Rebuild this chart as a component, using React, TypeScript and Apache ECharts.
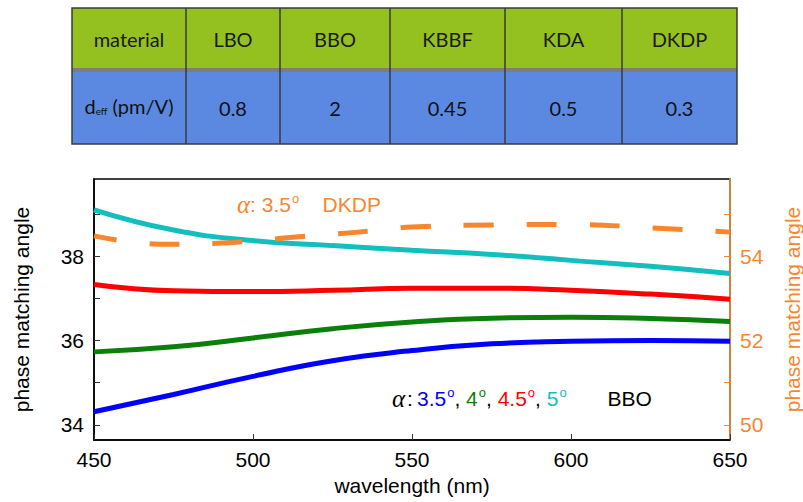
import React, { useEffect, useRef } from "react";
import * as echarts from "echarts";

// ---- data ----
const materials = ["LBO", "BBO", "KBBF", "KDA", "DKDP"];
const deffValues = ["0.8", "2", "0.45", "0.5", "0.3"];

const wavelengths = [450, 475, 500, 525, 550, 575, 600, 625, 650];
const bbo35 = [34.31, 34.72, 35.15, 35.52, 35.76, 35.92, 35.98, 36.0, 35.98];
const bbo40 = [35.73, 35.85, 36.06, 36.28, 36.44, 36.53, 36.55, 36.52, 36.45];
const bbo45 = [37.33, 37.18, 37.16, 37.19, 37.24, 37.24, 37.19, 37.1, 36.98];
const bbo50 = [39.1, 38.62, 38.37, 38.25, 38.14, 38.04, 37.9, 37.76, 37.59];

const dkdpWavelengths = [450, 462.5, 475, 487.5, 500, 512.5, 525, 537.5, 550, 575, 600, 625, 650];
const dkdp35 = [54.48, 54.33, 54.28, 54.3, 54.36, 54.45, 54.52, 54.6, 54.69, 54.74, 54.75, 54.67, 54.57];

const xTicks = [450, 500, 550, 600, 650];
const leftTicks = [34, 35, 36, 37, 38, 39];
const leftLabels = [34, 36, 38];
const rightTicks = [50, 51, 52, 53, 54, 55];
const rightLabels = [50, 52, 54];

const FONT = "'Liberation Sans', Arial, sans-serif";
const ORANGE = "#f7862f";

function pairs(xs: number[], ys: number[]) {
  return xs.map((x, i) => [x, ys[i]]);
}

function buildTable() {
  const left = 72;
  const top = 8;
  const right = 737;
  const headerH = 60;
  const sepH = 4;
  const rowH = 72;
  const edges = [72, 186, 280, 390, 505, 622, 737];
  const els: any[] = [];
  els.push({ type: "rect", shape: { x: left, y: top, width: right - left, height: headerH }, style: { fill: "#94c11f" } });
  els.push({ type: "rect", shape: { x: left, y: top + headerH, width: right - left, height: sepH }, style: { fill: "#7d7d7d" } });
  els.push({ type: "rect", shape: { x: left, y: top + headerH + sepH, width: right - left, height: rowH }, style: { fill: "#5b89e2" } });
  els.push({ type: "rect", shape: { x: left, y: top, width: right - left, height: headerH + sepH + rowH }, style: { fill: "none", stroke: "#3a3a3a", lineWidth: 1.5 } });
  for (let i = 1; i < edges.length - 1; i++) {
    els.push({ type: "line", shape: { x1: edges[i], y1: top, x2: edges[i], y2: top + headerH + sepH + rowH }, style: { stroke: "#3a3a3a", lineWidth: 1.5 } });
  }
  const headers = ["material", ...materials];
  headers.forEach((h, i) => {
    els.push({
      type: "text",
      x: (edges[i] + edges[i + 1]) / 2,
      y: top + headerH / 2 + 1,
      style: { text: h, align: "center", verticalAlign: "middle", fontFamily: "Lato", fontSize: 20, fill: "#1a1a1a" },
    });
  });
  const row2y = top + headerH + sepH + rowH / 2;
  els.push({
    type: "text",
    x: (edges[0] + edges[1]) / 2,
    y: row2y - 2,
    style: {
      text: "{d|d}{s|eff}{d| (pm/V)}",
      align: "center",
      verticalAlign: "middle",
      rich: {
        d: { fontFamily: "Lato", fontSize: 20, fill: "#111" },
        s: { fontFamily: "Lato", fontSize: 10, fill: "#111", verticalAlign: "bottom" },
      },
    },
  });
  deffValues.forEach((v, i) => {
    els.push({
      type: "text",
      x: (edges[i + 1] + edges[i + 2]) / 2,
      y: row2y,
      style: { text: v, align: "center", verticalAlign: "middle", fontFamily: "Lato", fontSize: 20, fill: "#111" },
    });
  });
  return els;
}

export default function App() {
  const ref = useRef<HTMLDivElement>(null);
  useEffect(() => {
    if (!ref.current) return;
    const chart = echarts.init(ref.current, undefined, { renderer: "svg" });
    const sup = (color: string) => ({ fontFamily: FONT, fontSize: 13, fill: color, verticalAlign: "top", padding: [0, 0, 0, 1] });
    const txt = (color: string) => ({ fontFamily: FONT, fontSize: 21, fill: color });
    const colon = (color: string) => ({ fontFamily: FONT, fontSize: 21, fill: color, padding: [0, 4, 0, 2] });
    const alpha = (color: string) => ({ fontFamily: "'Liberation Serif', serif", fontStyle: "italic", fontSize: 25, fill: color });
    chart.setOption({
      animation: false,
      backgroundColor: "#fff",
      grid: {
        left: 94,
        top: 179,
        right: 73,
        bottom: 62,
        show: true,
        borderColor: "#000",
        borderWidth: 1.5,
        outerBoundsMode: "none",
        containLabel: false,
      },
      xAxis: {
        type: "value",
        min: 450,
        max: 650,
        interval: 50,
        name: "wavelength (nm)",
        nameLocation: "middle",
        nameGap: 35,
        nameTextStyle: { fontFamily: FONT, fontSize: 21, color: "#000" },
        axisLine: { lineStyle: { color: "#000", width: 1.5 } },
        axisTick: { inside: true, length: 6, lineStyle: { color: "#333" } },
        axisLabel: { fontFamily: FONT, fontSize: 21, color: "#000", margin: 9, customValues: xTicks },
        splitLine: { show: false },
      },
      yAxis: [
        {
          type: "value",
          position: "left",
          min: 33.64,
          max: 39.83,
          name: "phase matching angle",
          nameLocation: "middle",
          nameRotate: 90,
          nameGap: 62,
          nameTextStyle: { fontFamily: FONT, fontSize: 21, color: "#000" },
          axisLine: { show: true, lineStyle: { color: "#000", width: 1.5 } },
          axisTick: { show: true, inside: true, length: 6, lineStyle: { color: "#333" }, customValues: leftTicks },
          axisLabel: { fontFamily: FONT, fontSize: 21, color: "#000", margin: 10, customValues: leftLabels },
          splitLine: { show: false },
        },
        {
          type: "value",
          position: "right",
          min: 49.64,
          max: 55.83,
          name: "phase matching angle",
          nameLocation: "middle",
          nameRotate: 90,
          nameGap: 52,
          nameTextStyle: { fontFamily: FONT, fontSize: 21, color: ORANGE },
          axisLine: { show: true, lineStyle: { color: "#d0803f", width: 2 } },
          axisTick: { show: true, inside: true, length: 6, lineStyle: { color: ORANGE }, customValues: rightTicks },
          axisLabel: { fontFamily: FONT, fontSize: 21, color: ORANGE, margin: 10, customValues: rightLabels },
          splitLine: { show: false },
        },
      ],
      series: [
        { name: "BBO 3.5", type: "line", data: pairs(wavelengths, bbo35), smooth: 0.5, showSymbol: false, lineStyle: { color: "#0000ff", width: 5 } },
        { name: "BBO 4", type: "line", data: pairs(wavelengths, bbo40), smooth: 0.5, showSymbol: false, lineStyle: { color: "#0a800a", width: 5 } },
        { name: "BBO 4.5", type: "line", data: pairs(wavelengths, bbo45), smooth: 0.5, showSymbol: false, lineStyle: { color: "#ff0000", width: 5 } },
        { name: "BBO 5", type: "line", data: pairs(wavelengths, bbo50), smooth: 0.5, showSymbol: false, lineStyle: { color: "#12bfbf", width: 5 } },
        {
          name: "DKDP 3.5",
          type: "line",
          yAxisIndex: 1,
          data: pairs(dkdpWavelengths, dkdp35),
          smooth: 0.5,
          showSymbol: false,
          lineStyle: { color: ORANGE, width: 5, type: [30, 33], dashOffset: 7, cap: "butt" },
        },
      ],
      graphic: [
        ...buildTable(),
        {
          type: "text",
          x: 237,
          y: 204,
          style: {
            text: "{a|α}{t|: 3.5}{s|o}{t|    DKDP}",
            verticalAlign: "middle",
            rich: { a: alpha(ORANGE), t: txt(ORANGE), s: sup(ORANGE) },
          },
        },
        {
          type: "text",
          x: 392,
          y: 398,
          style: {
            text: "{a|α}{p|:}{b|3.5}{bs|o}{k|, }{g|4}{gs|o}{k|, }{r|4.5}{rs|o}{k|, }{c|5}{cs|o}{k|       BBO}",
            verticalAlign: "middle",
            rich: {
              a: alpha("#000"),
              p: colon("#000"),
              k: txt("#000"),
              b: txt("#0000ff"),
              bs: sup("#0000ff"),
              g: txt("#0a800a"),
              gs: sup("#0a800a"),
              r: txt("#ff0000"),
              rs: sup("#ff0000"),
              c: txt("#12bfbf"),
              cs: sup("#12bfbf"),
            },
          },
        },
      ],
    });
    return () => chart.dispose();
  }, []);
  return <div ref={ref} style={{ position: "fixed", left: 0, top: 0, width: 803, height: 502 }} />;
}
